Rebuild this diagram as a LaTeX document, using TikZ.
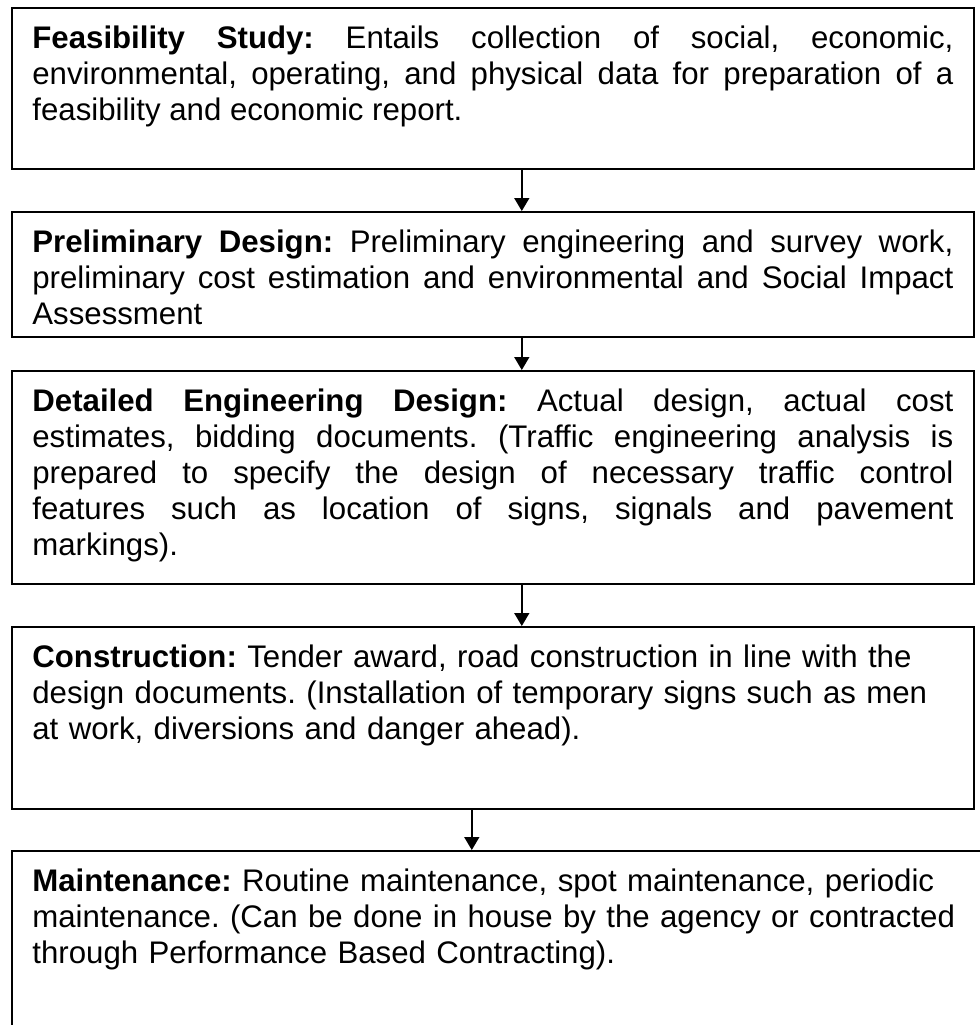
\documentclass[tikz,border=0pt]{standalone}
\usepackage{fontspec}
\setmainfont{Liberation Sans}
\usetikzlibrary{arrows.meta}
\begin{document}
\begin{tikzpicture}[x=0.5pt,y=-0.5pt,
  stagebox/.style={draw, line width=0.8pt, rectangle, anchor=north west, inner sep=0pt, minimum width=481pt},
  stagetext/.style={anchor=north west, inner sep=0pt, text width=460.5pt, font=\fontsize{15.6}{18}\selectfont\frenchspacing, align=justify},
  raggedtext/.style={stagetext, text width=472pt, align=left},
  flow/.style={line width=0.8pt, -{Triangle[width=7.5pt,length=6.5pt]}}]
\useasboundingbox (0,0) rectangle (980,1025);
\clip (0,0) rectangle (980,1025);
% boxes
\node[stagebox, minimum height=80.5pt] (b1) at (11,7) {};
\node[stagebox, minimum height=62.5pt] (b2) at (11,211) {};
\node[stagebox, minimum height=106.5pt] (b3) at (11,370) {};
\node[stagebox, minimum height=91pt] (b4) at (11,626) {};
\node[stagebox, minimum height=110pt, minimum width=492pt] (b5) at (11,850) {};
% texts
\node[stagetext] (t1) at ([xshift=10.5pt,yshift=-7.9pt]b1.north west)
  {\strut\textbf{Feasibility Study:} Entails collection of social, economic,\linebreak
   environmental, operating, and physical data for preparation of a\linebreak
   feasibility and economic report.};
\node[stagetext] (t2) at ([xshift=10.5pt,yshift=-7.9pt]b2.north west)
  {\strut\textbf{Preliminary Design:} Preliminary engineering and survey work,\linebreak
   preliminary cost estimation and environmental and Social Impact\linebreak
   Assessment};
\node[stagetext] (t3) at ([xshift=10.5pt,yshift=-7.9pt]b3.north west)
  {\strut\textbf{Detailed Engineering Design:} Actual design, actual cost\linebreak
   estimates, bidding documents. (Traffic engineering analysis is\linebreak
   prepared to specify the design of necessary traffic control\linebreak
   features such as location of signs, signals and pavement\linebreak
   markings).};
\node[raggedtext] (t4) at ([xshift=10.5pt,yshift=-7.9pt]b4.north west)
  {\strut\textbf{Construction:} Tender award, road construction in line with the\\
   design documents. (Installation of temporary signs such as men\\
   at work, diversions and danger ahead).};
\node[raggedtext] (t5) at ([xshift=10.5pt,yshift=-7.9pt]b5.north west)
  {\strut\textbf{Maintenance:} Routine maintenance, spot maintenance, periodic\\
   maintenance. (Can be done in house by the agency or contracted\\
   through Performance Based Contracting).};
% connectors
\draw[flow] ([xshift=14.5pt]b1.south) -- ([xshift=14.5pt]b1.south |- b2.north);
\draw[flow] ([xshift=14.5pt]b2.south) -- ([xshift=14.5pt]b2.south |- b3.north);
\draw[flow] ([xshift=14.5pt]b3.south) -- ([xshift=14.5pt]b3.south |- b4.north);
\draw[flow] ([xshift=-10.5pt]b4.south) -- ([xshift=-10.5pt]b4.south |- b5.north);
\end{tikzpicture}
\end{document}
